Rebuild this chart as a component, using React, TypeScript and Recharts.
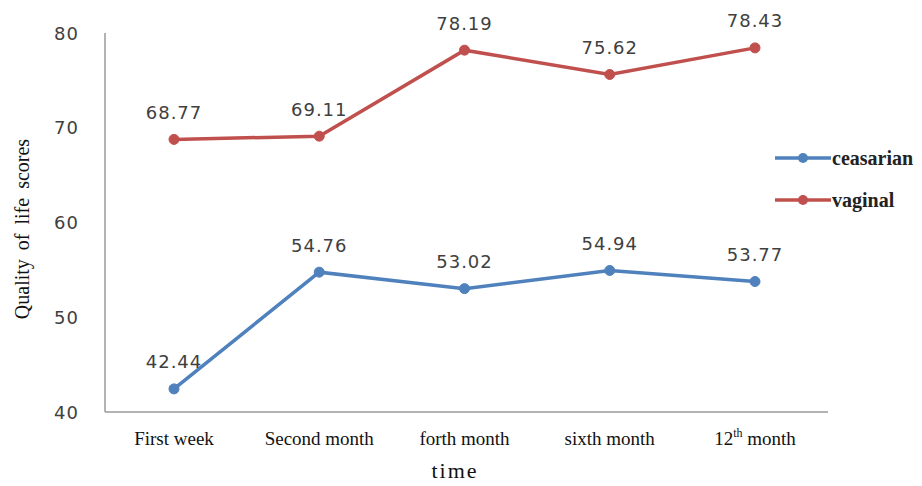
import React from 'react';
import { LineChart, Line, XAxis, YAxis, Legend, LabelList } from 'recharts';

const categories = ['First week', 'Second month', 'forth month', 'sixth month', '12th month'];
const ceasarian = [42.44, 54.76, 53.02, 54.94, 53.77];
const vaginal = [68.77, 69.11, 78.19, 75.62, 78.43];
const yTicks = [40, 50, 60, 70, 80];

const data = categories.map((c, i) => ({ name: c, ceasarian: ceasarian[i], vaginal: vaginal[i] }));

const BLUE = '#4F81BD';
const RED = '#C0504D';
const SERIF = '"Liberation Serif", "Times New Roman", serif';
const SANS = '"DejaVu Sans", Verdana, sans-serif';

const YTick = (props: any) => {
  const { x, y, payload } = props;
  return (
    <text x={x - 18} y={y} textAnchor="end" dominantBaseline="central" fill="#404040"
      fontFamily={SANS} fontSize={18} letterSpacing={1}>
      {payload.value}
    </text>
  );
};

const XTick = (props: any) => {
  const { x, y, payload } = props;
  const v: string = payload.value;
  if (v.startsWith('12th')) {
    return (
      <text x={x} y={y + 18} textAnchor="middle" dominantBaseline="central" fill="#111"
        fontFamily={SERIF} fontSize={19}>
        <tspan>12</tspan>
        <tspan fontSize={12} dy={-5}>th</tspan>
        <tspan dy={5}> month</tspan>
      </text>
    );
  }
  return (
    <text x={x} y={y + 18} textAnchor="middle" dominantBaseline="central" fill="#111"
      fontFamily={SERIF} fontSize={19}>
      {v}
    </text>
  );
};

const ValueLabel = (props: any) => {
  const { x, y, value } = props;
  return (
    <text x={x} y={y - 27} textAnchor="middle" dominantBaseline="central" fill="#404040"
      fontFamily={SANS} fontSize={18} letterSpacing={1}>
      {Number(value).toFixed(2)}
    </text>
  );
};

const LegendContent = (props: any) => {
  const { payload } = props;
  return (
    <div>
      {(payload || []).map((p: any, i: number) => (
        <div key={i} style={{ display: 'flex', alignItems: 'center', height: 42 }}>
          <svg width={56} height={14}>
            <line x1={0} y1={7} x2={56} y2={7} stroke={p.color} strokeWidth={3.5} />
            <circle cx={28} cy={7} r={5} fill={p.color} />
          </svg>
          <span style={{ fontFamily: SERIF, fontSize: 20, fontWeight: 'bold', color: '#222', marginLeft: 1 }}>
            {p.value}
          </span>
        </div>
      ))}
    </div>
  );
};

const TimeLabel = () => (
  <text x={455} y={470} textAnchor="middle" dominantBaseline="central" fill="#111"
    fontFamily={SERIF} fontSize={22} letterSpacing={2}>
    time
  </text>
);

const YTitle = () => (
  <text x={22} y={229} transform="rotate(-90, 22, 229)" textAnchor="middle" dominantBaseline="central"
    fill="#111" fontFamily={SERIF} fontSize={20} wordSpacing={4}>
    Quality of life scores
  </text>
);

export default function App() {
  return (
    <div style={{ position: 'absolute', left: 0, top: 0, width: 922, height: 486, background: '#fff' }}>
      <LineChart width={922} height={486} data={data} margin={{ top: 33, right: 94, bottom: 0, left: 0 }}>
        <XAxis dataKey="name" height={74} tick={<XTick />} tickLine={false} axisLine={{ stroke: '#9a9a9a', strokeWidth: 1.5 }}
          interval={0} padding={{ left: 69, right: 73 }} label={<TimeLabel />} />
        <YAxis width={105} domain={[40, 80]} ticks={yTicks} tick={<YTick />} tickLine={false}
          axisLine={{ stroke: '#9a9a9a', strokeWidth: 1.5 }} label={<YTitle />} />
        <Legend layout="vertical" align="center" verticalAlign="middle" content={<LegendContent />}
          wrapperStyle={{ left: 775, top: 137, width: 150 }} />
        <Line type="linear" dataKey="ceasarian" name="ceasarian" stroke={BLUE} strokeWidth={3.5}
          dot={{ r: 5, fill: BLUE, stroke: BLUE, strokeWidth: 1 }} isAnimationActive={false}>
          <LabelList dataKey="ceasarian" content={<ValueLabel />} />
        </Line>
        <Line type="linear" dataKey="vaginal" name="vaginal" stroke={RED} strokeWidth={3.5}
          dot={{ r: 5, fill: RED, stroke: RED, strokeWidth: 1 }} isAnimationActive={false}>
          <LabelList dataKey="vaginal" content={<ValueLabel />} />
        </Line>
      </LineChart>
    </div>
  );
}
